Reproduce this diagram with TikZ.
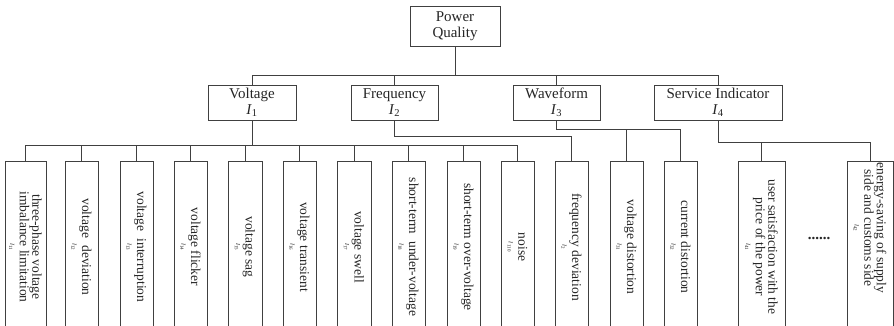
\documentclass[tikz,border=0pt]{standalone}
\usepackage{fontspec}
\setmainfont{Liberation Serif}
\newcommand{\leaflab}[1]{{\fontsize{6}{6}\selectfont\textit{I}\textsubscript{#1}}}
\newcommand{\catidx}[1]{\textit{I}\textsubscript{#1}}
\begin{document}
\begin{tikzpicture}[x=1pt,y=-1pt]
\tikzset{
  box/.style={draw=black!75, line width=0.9pt, inner sep=0pt, align=center,
    font=\fontsize{15}{16}\selectfont, text=black!85},
  leafbox/.style={draw=black!75, line width=0.9pt, anchor=north, minimum height=200pt, inner sep=0pt},
  ltext/.style={rotate=-90, align=center, font=\fontsize{13.5}{12.5}\selectfont, inner sep=0pt, text=black!85},
  conn/.style={draw=black!75, line width=0.9pt}
}
\clip (0,0) rectangle (894,325);
\fill[white] (0,0) rectangle (894,325);

% root and categories
\node[box, minimum width=90pt, minimum height=40pt] (PQ) at (455,26) {Power\\Quality};
\node[box, minimum width=88pt, minimum height=35pt] (V) at (252,102.5) {Voltage\\\catidx{1}};
\node[box, minimum width=87pt, minimum height=35pt] (F) at (394.5,102.5) {Frequency\\\catidx{2}};
\node[box, minimum width=87pt, minimum height=35pt] (W) at (556.5,102.5) {Waveform\\\catidx{3}};
\node[box, minimum width=128pt, minimum height=35pt] (S) at (718,102.5) {Service Indicator\\\catidx{4}};

% leaf boxes
\node[leafbox, minimum width=41pt] (L1) at (25.5,161) {};
\node[leafbox, minimum width=33pt] (L2) at (81.5,161) {};
\node[leafbox, minimum width=33pt] (L3) at (136.5,161) {};
\node[leafbox, minimum width=33pt] (L4) at (190.5,161) {};
\node[leafbox, minimum width=34pt] (L5) at (245,161) {};
\node[leafbox, minimum width=33pt] (L6) at (299.5,161) {};
\node[leafbox, minimum width=34pt] (L7) at (354,161) {};
\node[leafbox, minimum width=33pt] (L8) at (408.5,161) {};
\node[leafbox, minimum width=33pt] (L9) at (463.5,161) {};
\node[leafbox, minimum width=33pt] (L10) at (517.5,161) {};
\node[leafbox, minimum width=33pt] (L11) at (571.5,161) {};
\node[leafbox, minimum width=33pt] (L12) at (626.5,161) {};
\node[leafbox, minimum width=33pt] (L13) at (680.5,161) {};
\node[leafbox, minimum width=47pt] (L14) at (761.5,161) {};
\node[leafbox, minimum width=46pt] (L15) at (870,161) {};

% leaf texts
\node[ltext] (T1) at (25.5,247) {three-phase voltage\\imbalance limitation\\[-3pt]\leaflab{11}};
\node[ltext] (T2) at (81.5,247) {voltage\hspace{0.3em} deviation\\[-3pt]\leaflab{12}};
\node[ltext] (T3) at (136.5,247) {voltage\hspace{0.3em} interruption\\[-3pt]\leaflab{13}};
\node[ltext] (T4) at (190.5,247) {voltage flicker\\[-3pt]\leaflab{14}};
\node[ltext] (T5) at (245,247) {voltage sag\\[-3pt]\leaflab{15}};
\node[ltext] (T6) at (299.5,247) {voltage transient\\[-3pt]\leaflab{16}};
\node[ltext] (T7) at (354,247) {voltage swell\\[-3pt]\leaflab{17}};
\node[ltext] (T8) at (408.5,247) {short-term\hspace{0.3em} under-voltage\\[-3pt]\leaflab{18}};
\node[ltext] (T9) at (463.5,247) {short-term over-voltage\\[-3pt]\leaflab{19}};
\node[ltext] (T10) at (517.5,247) {noise\\[-3pt]\leaflab{110}};
\node[ltext] (T11) at (571.5,247) {frequency deviation\\[-3pt]\leaflab{2}};
\node[ltext] (T12) at (626.5,247) {voltage distortion\\[-3pt]\leaflab{31}};
\node[ltext] (T13) at (680.5,247) {current distortion\\[-3pt]\leaflab{32}};
\node[ltext] (T14) at (761.5,247) {user satisfaction with the\\price of the power\\[-3pt]\leaflab{41}};
\node[ltext] (T15) at (870,228) {energy-saving of supply\\side and customs side\\[-3pt]\leaflab{42}};
\node[font=\fontsize{15}{15}\selectfont\bfseries, text=black!85, inner sep=0pt] (dots) at (819,238) {......};

% connectors: root to categories
\draw[conn] (PQ.south) -- (PQ.south |- 0,76);
\draw[conn] (V.north) -- ++(0,-9) coordinate (tb) -| (S.north);
\draw[conn] (F.north) -- (F.north |- tb);
\draw[conn] (W.north) -- (W.north |- tb);

% voltage children
\draw[conn] (V.south) -- ++(0,25) coordinate (vb);
\draw[conn] (L1.north) |- (vb) -| (L10.north);
\foreach \k in {2,...,9} {\draw[conn] (L\k.north) -- (L\k.north |- vb);}

% frequency child
\draw[conn] (F.south) -- ++(0,16) -| (L11.north);

% waveform children
\draw[conn] (W.south) -- ++(0,9) coordinate (wb) -| (L13.north);
\draw[conn] (L12.north) -- (L12.north |- wb);

% service children
\draw[conn] (S.south) -- ++(0,22) coordinate (sb) -| (L15.north);
\draw[conn] (L14.north) -- (L14.north |- sb);
\end{tikzpicture}
\end{document}
